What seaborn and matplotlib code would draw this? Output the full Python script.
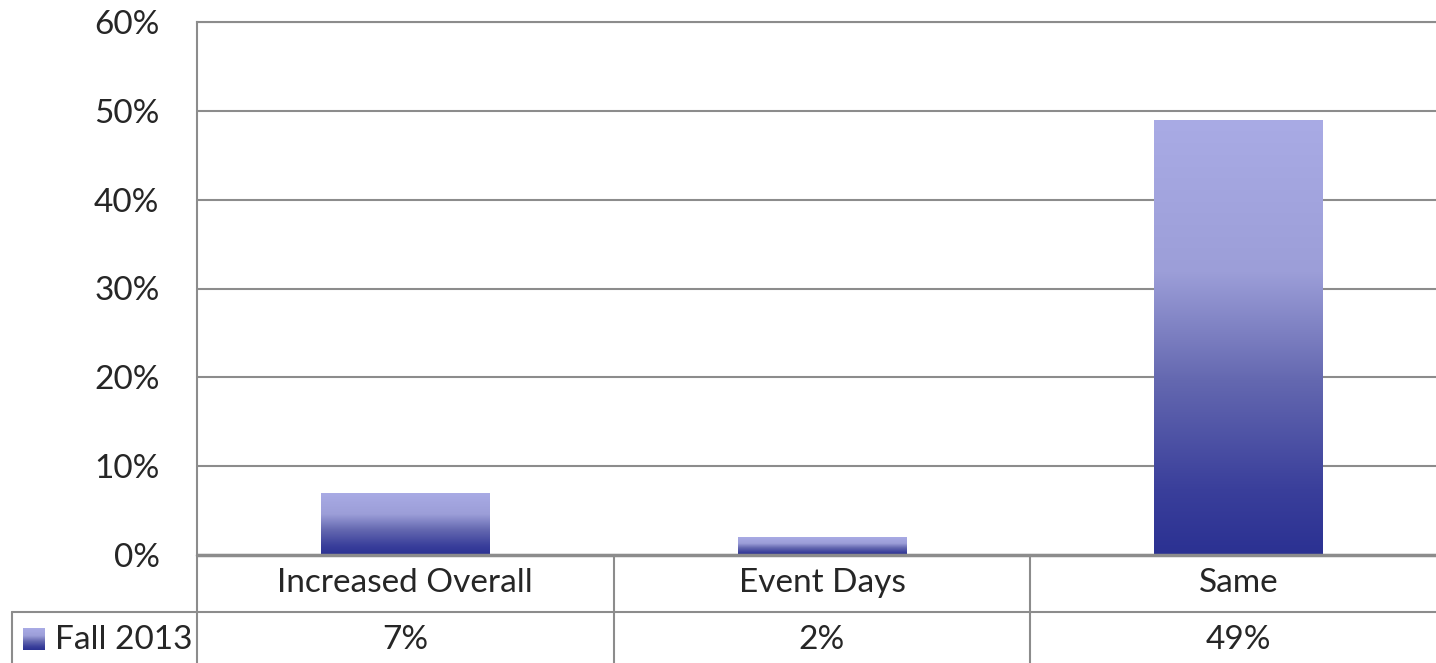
import numpy as np
import pandas as pd
import seaborn as sns
from matplotlib import pyplot as plt
from matplotlib.colors import LinearSegmentedColormap
from matplotlib.transforms import blended_transform_factory

categories = ["Increased Overall", "Event Days", "Same"]
values = [7, 2, 49]
value_labels = ["7%", "2%", "49%"]
series_name = "Fall 2013"
y_ticks = [0, 10, 20, 30, 40, 50, 60]

df = pd.DataFrame({"category": categories, "value": values})

sns.set_style("white")
plt.rcParams["font.family"] = ["Lato", "DejaVu Sans"]

grid_col = "#8c8c8c"
text_col = "#262626"
fs = 24
# light at top, dark at bottom (Excel style gradient)
grad = LinearSegmentedColormap.from_list(
    "bar", [(0.0, "#2b3192"), (0.15, "#3a3f9b"), (0.4, "#6468b0"),
            (0.65, "#9c9ed8"), (1.0, "#a9abe5")])

fig = plt.figure(figsize=(14.36, 6.63), dpi=100)
ax = fig.add_axes([197 / 1436, 1 - 555 / 663, 1250 / 1436, (555 - 22) / 663])
px = 1250 / 3  # pixels per category
py = 555 - 22  # axes height in pixels

sns.barplot(data=df, x="category", y="value", color="#8f92d2", width=0.405,
            ax=ax, zorder=3)

ax.set_ylim(0, 60)
ax.set_xlim(-0.5, 2.5)
ax.set_yticks(y_ticks)
ax.set_yticklabels([f"{t}%" for t in y_ticks], fontsize=fs, color=text_col)
ax.yaxis.grid(True, color=grid_col, linewidth=1.5, zorder=0)
ax.set_axisbelow(True)
ax.set_xlabel("")
ax.set_ylabel("")
ax.set_xticks([])
ax.tick_params(axis="y", length=0, pad=27)
for side in ["left", "top", "right"]:
    ax.spines[side].set_color(grid_col)
    ax.spines[side].set_linewidth(1.5)
ax.spines["bottom"].set_visible(False)

# gradient fill clipped to each bar
g = np.linspace(0, 1, 256).reshape(-1, 1)
for p in ax.patches:
    x0, y0 = p.get_x(), p.get_y()
    w, h = p.get_width(), p.get_height()
    im = ax.imshow(g, cmap=grad, origin="lower", aspect="auto",
                   extent=[x0, x0 + w, y0, y0 + h], zorder=4)
    im.set_clip_path(p)
    p.set_facecolor("none")
    p.set_edgecolor("none")
ax.set_xlim(-0.5, 2.5)
ax.set_ylim(0, 60)

# data table under the plot
trans = blended_transform_factory(ax.transData, ax.transAxes)
row1 = -(612 - 555) / py
row2 = -(663 - 555) / py
left_cell = -0.5 - (197 - 12) / px
ax.plot([-0.5, 2.5], [0, 0], transform=trans, color=grid_col, lw=2.5,
        clip_on=False, zorder=5)
ax.plot([left_cell, 2.5], [row1, row1], transform=trans, color=grid_col,
        lw=1.5, clip_on=False)
ax.plot([left_cell, left_cell], [row1, row2], transform=trans, color=grid_col,
        lw=1.5, clip_on=False)
for xb in [-0.5, 0.5, 1.5]:
    ax.plot([xb, xb], [0, row2], transform=trans, color=grid_col, lw=1.5,
            clip_on=False)

cat_y = -(583 - 555) / py
val_y = -(640 - 555) / py
for i, (c, v) in enumerate(zip(categories, value_labels)):
    ax.text(i, cat_y, c, transform=trans, ha="center", va="center",
            fontsize=fs, color=text_col)
    ax.text(i, val_y, v, transform=trans, ha="center",
            va="center", fontsize=fs, color=text_col)

# legend key in the table
lx0 = -0.5 - (197 - 23) / px
lw_ = 22 / px
ly_top = -(628 - 555) / py
ly_bot = -(650 - 555) / py
ax.imshow(g, cmap=grad, origin="lower", aspect="auto",
          extent=[lx0, lx0 + lw_, ly_bot, ly_top], transform=trans,
          clip_on=False)
ax.text(lx0 + lw_ + 10 / px, val_y, series_name, transform=trans,
        ha="left", va="center", fontsize=fs, color=text_col)

plt.savefig("out.png", dpi=100)
